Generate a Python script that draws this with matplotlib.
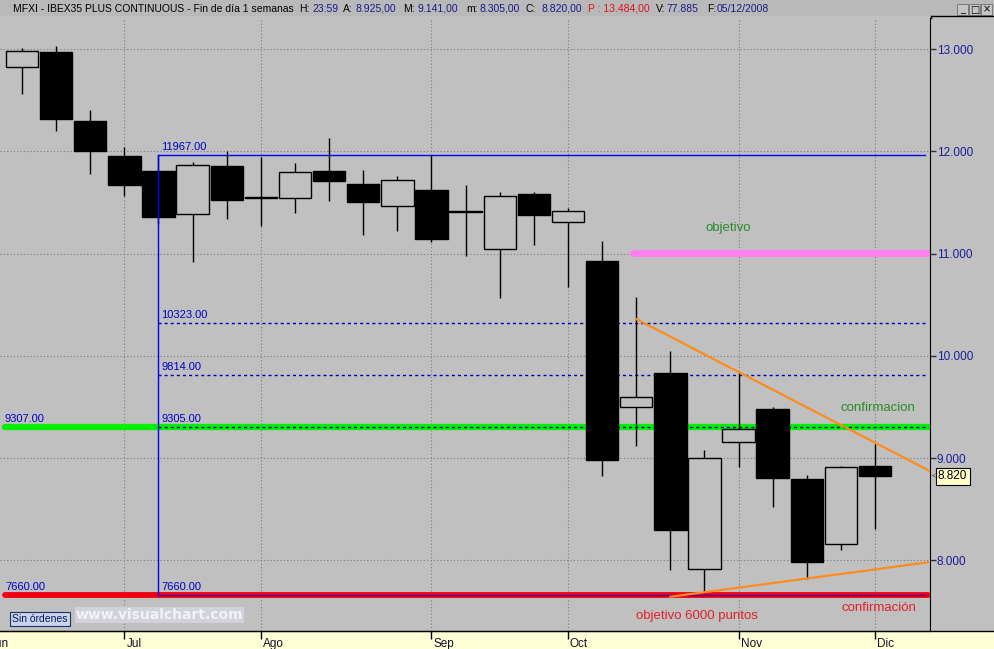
import numpy as np
import matplotlib
matplotlib.use('Agg')
import matplotlib.pyplot as plt
from matplotlib.patches import Rectangle
from matplotlib.lines import Line2D
import matplotlib.transforms as mtransforms

plt.rcParams['font.family'] = ['Liberation Sans', 'DejaVu Sans']

# ---------------- data ----------------
opens  = [12824, 12974, 12301, 11956, 11809, 11385, 11858, 11556, 11542, 11809,
          11682, 11464, 11623, 11418, 11043, 11584, 11307, 10928, 9497, 9833,
          7912, 9154, 9480, 8795, 8160, 8925]
highs  = [13010, 13032, 12406, 12041, 11967, 11894, 12005, 11943, 11887, 12135,
          11819, 11760, 11966, 11669, 11604, 11604, 11447, 11124, 10576, 10048,
          9079, 9845, 9497, 8832, 8923, 9141]
lows   = [12563, 12204, 11780, 11567, 11290, 10916, 11337, 11271, 11401, 11519,
          11183, 11225, 11114, 10980, 10564, 11085, 10675, 8828, 9121, 7908,
          7677, 8913, 8524, 7817, 8101, 8305]
closes = [12983, 12315, 12008, 11675, 11362, 11865, 11528, 11540, 11796, 11714,
          11509, 11718, 11147, 11404, 11562, 11382, 11415, 8978, 9595, 8299,
          8998, 9285, 8808, 7980, 8910, 8820]

month_labels = ['Jun', 'Jul', 'Ago', 'Sep', 'Oct', 'Nov', 'Dic']
month_pos = [-1, 3, 7, 12, 16, 21, 25]
price_ticks = [8000, 9000, 10000, 11000, 12000, 13000]

fib_anchor = 4
fib_levels = [11967, 10323, 9814, 9305, 7660]
green_level = 9307
red_level = 7660
pink_level = 11010
down_trend_x = [18.0, 26.6]
down_trend_y = [10361, 8874]
up_trend_x = [19.0, 26.55]
up_trend_y = [7643, 7980]

hdr_title = 'MFXI - IBEX35 PLUS CONTINUOUS - Fin de día 1 semanas'
hdr_hour = '23:59'
hdr_p = '13.484,00'
hdr_v = '77.885'
hdr_date = '05/12/2008'

# ---------------- figure ----------------
W, H = 994, 649
BG = '#C0C0C0'
fig = plt.figure(figsize=(W / 100, H / 100), dpi=100)
fig.patch.set_facecolor(BG)

def fx(px):
    return px / W

def fy(py):
    return 1 - py / H

# header band and bottom band
fig.add_artist(Rectangle((0, fy(16)), 1, 16 / H, transform=fig.transFigure,
                         fc='#B9B9B9', ec='none', zorder=0))
fig.add_artist(Rectangle((0, 0), 1, 18 / H, transform=fig.transFigure,
                         fc='#FFFFD6', ec='none', zorder=0))
fig.add_artist(Line2D([0, 1], [fy(631), fy(631)], transform=fig.transFigure,
                      color='black', lw=1, zorder=3))
fig.add_artist(Line2D([fx(930.5), 1], [fy(16), fy(16)], transform=fig.transFigure,
                      color='black', lw=1, zorder=3))
fig.add_artist(Line2D([fx(930.5), fx(930.5)], [fy(16), fy(18)], transform=fig.transFigure,
                      color='black', lw=1, zorder=3))

ax = fig.add_axes([0, 18 / H, 930 / W, 613 / H])
ax.set_facecolor(BG)

# grid
ax.set_axisbelow(True)
ax.grid(True, color='#7A7A7A', linestyle=(0, (1, 2)), linewidth=0.8)

# horizontal levels (below candles)
x0 = -0.5
x1 = 26.55
ax.plot([x0, x1], [green_level] * 2, color='#00F000', lw=4.5,
        solid_capstyle='round', zorder=1.5)
ax.plot([x0, x1], [red_level] * 2, color='#F00010', lw=4.2,
        solid_capstyle='round', zorder=1.5)
ax.plot([17.9, x1], [pink_level] * 2, color='#FF80EE', lw=5,
        solid_capstyle='round', zorder=1.5)

fx1 = 26.47
for i, lvl in enumerate(fib_levels):
    if i == 0:
        ax.plot([fib_anchor, fx1], [lvl, lvl], color='#0000FF', lw=1, zorder=1.6)
    elif lvl == 7660:
        ax.plot([fib_anchor, fx1], [lvl, lvl], color='#5A00A0', lw=1, zorder=1.6)
    else:
        ax.plot([fib_anchor, fx1], [lvl, lvl], color='#0000B0', lw=1,
                linestyle=(0, (2.2, 2.2)), zorder=1.6)
    ax.annotate(f'{lvl:.2f}', xy=(fib_anchor, lvl), xytext=(2, 2),
                textcoords='offset points', ha='left', va='bottom',
                color='#0000C8', fontsize=8, zorder=6)

ax.annotate(f'{green_level:.2f}', xy=(x0, green_level), xytext=(0, 2),
            textcoords='offset points', ha='left', va='bottom',
            color='#0000C8', fontsize=8)
ax.annotate(f'{red_level:.2f}', xy=(x0, red_level), xytext=(0, 2),
            textcoords='offset points', ha='left', va='bottom',
            color='#0000C8', fontsize=8)

# candles
xs = np.arange(len(opens))
o = np.array(opens); c = np.array(closes)
ax.vlines(xs, lows, highs, color='black', lw=1, zorder=2)
bottoms = np.minimum(o, c)
heights = np.abs(c - o)
faces = [BG if cc > oo else 'black' for oo, cc in zip(o, c)]
ax.bar(xs, heights, width=0.95, bottom=bottoms, color=faces, edgecolor='black',
       linewidth=1, zorder=3)

# vertical fib line
ax.plot([fib_anchor, fib_anchor], [fib_levels[0], fib_levels[-1]],
        color='#0000FF', lw=1, zorder=4)

# trend lines
ax.plot(down_trend_x, down_trend_y, color='#FF8C1A', lw=1.6, zorder=5)
ax.plot(up_trend_x, up_trend_y, color='#FF8C1A', lw=1.6, zorder=5)

# annotations
ax.text(20.7, 11251, 'objetivo', color='#2A8A2A', fontsize=9.5, ha='center', va='center')
ax.text(24.0, 9490, 'confirmacion', color='#2A8A2A', fontsize=9.5, ha='left', va='center')
ax.text(24.03, 7533, 'confirmación', color='#E0202A', fontsize=9.5, ha='left', va='center')
ax.text(18.0, 7455, 'objetivo 6000 puntos', color='#E0202A', fontsize=9.5,
        ha='left', va='center')

# axes styling
for s in ['top', 'left']:
    ax.spines[s].set_visible(False)
ax.spines['right'].set_color('black')
ax.spines['bottom'].set_color('black')

ax.yaxis.tick_right()
ax.set_yticks(price_ticks)
ax.set_yticklabels([f'{v:,}'.replace(',', '.') for v in price_ticks])
ax.tick_params(axis='y', length=4, width=1, color='#303030', labelcolor='#1C1C9A',
               labelsize=8.5, pad=1)

ax.set_xticks(month_pos)
ax.set_xticklabels(month_labels)
ax.tick_params(axis='x', length=6, width=1, color='black', labelcolor='#101030',
               labelsize=8.5, pad=-1)
offset = mtransforms.ScaledTranslation(2 / 100, 0, fig.dpi_scale_trans)
for lab in ax.get_xticklabels():
    lab.set_ha('left')
    lab.set_transform(lab.get_transform() + offset)

# limits after ticks (set_xticks would otherwise widen the view)
ax.set_xlim(-0.645, 26.61)
ax.set_ylim(7308, 13306)

# first month label lies left of the view; draw it partially cut like the reference
trx = mtransforms.blended_transform_factory(ax.transData, ax.transAxes) + offset
ax.text(month_pos[0], -0.012, month_labels[0], transform=trx, ha='left', va='top',
        fontsize=8.5, color='#101030', clip_on=False)

# last price tag
tr = mtransforms.blended_transform_factory(ax.transAxes, ax.transData)
ax.text(1.0085, closes[-1], f'{closes[-1]:,}'.replace(',', '.'), transform=tr,
        ha='left', va='center', fontsize=8.5, color='black', clip_on=False,
        bbox=dict(boxstyle='square,pad=0.2', fc='#FFFFC8', ec='black', lw=0.8))
ax.text(1.0015, closes[-1], '<', transform=tr, ha='left', va='center',
        fontsize=5, color='#303030', clip_on=False)

# bottom-left widgets
fig.text(fx(12), fy(619), 'Sin órdenes', ha='left', va='center', fontsize=7.5,
         color='#101060',
         bbox=dict(boxstyle='square,pad=0.2', fc='#C6D6EA', ec='#203060', lw=0.8))
fig.text(fx(76), fy(615), 'www.visualchart.com', ha='left', va='center',
         fontsize=10, fontweight='bold', color='#F2F2FC', family='DejaVu Sans',
         bbox=dict(boxstyle='square,pad=0.05', fc='#D2D2DA', ec='none'))

# header texts
def fmt(v):
    return f'{v:,.2f}'.replace(',', 'X').replace('.', ',').replace('X', '.')

navy = '#1A1A8A'
hdr = [
    (hdr_title, 13, 'black'),
    ('H:', 299, 'black'), (hdr_hour, 312, navy),
    ('A:', 343, 'black'), (fmt(opens[-1]), 356, navy),
    ('M:', 403, 'black'), (fmt(highs[-1]), 418, navy),
    ('m:', 466, 'black'), (fmt(lows[-1]), 480, navy),
    ('C:', 526, 'black'), (fmt(closes[-1]), 542, navy),
    ('P : ' + hdr_p, 588, '#E01020'),
    ('V:', 656, 'black'), (hdr_v, 666, navy),
    ('F:', 707, 'black'), (hdr_date, 717, navy),
]
for txt, px, col in hdr:
    fig.text(fx(px), fy(8.5), txt, ha='left', va='center', fontsize=7.5, color=col)

# window buttons
for k, g in enumerate(['_', '□', '×']):
    bx = 957 + k * 12
    fig.add_artist(Rectangle((fx(bx), fy(15)), 11 / W, 11 / H, transform=fig.transFigure,
                             fc='#C4C4C4', ec='#707070', lw=0.6, zorder=2))
    fig.text(fx(bx + 5.5), fy(9.5), g, ha='center', va='center', fontsize=7,
             color='black', family='DejaVu Sans', zorder=3)

fig.savefig('out.png', dpi=100, facecolor=fig.get_facecolor())
